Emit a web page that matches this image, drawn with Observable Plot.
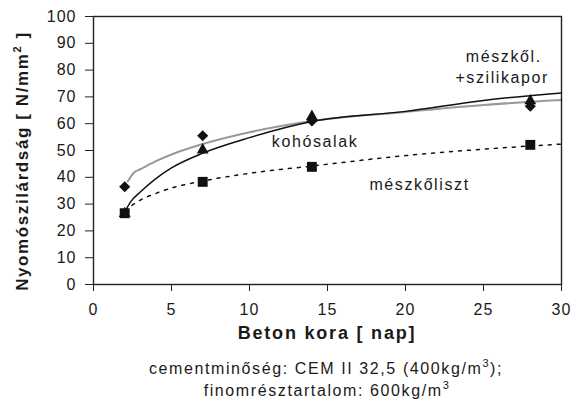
<!DOCTYPE html>
<html><head><meta charset="utf-8">
<script src="https://cdn.jsdelivr.net/npm/d3@7"></script>
<script src="https://cdn.jsdelivr.net/npm/@observablehq/plot@0.6"></script>
<style>
body{margin:0;background:#fff;}
svg{font-family:"Liberation Sans",Arial,sans-serif;}
</style></head><body><div id="chart"></div>
<script>
// measured points (days)
const days = [2, 7, 14, 28];
const szilikaporPts = [36.5, 55.5, 61, 66.5];   // diamonds
const kohosalakPts = [26.5, 50.2, 62.7, 68.5];  // triangles
const meszkolisztPts = [26.6, 38.3, 43.9, 52.1];// squares

// trend curves
const szilikaporTrendX = [2.2, 2.6, 3, 4, 5, 7, 10, 14, 20, 25, 30];
const szilikaporTrendY = [38.5, 41.8, 43, 46, 48.5, 52.4, 56.8, 61, 64.4, 67, 68.8];
const kohosalakTrendX = [2, 2.4, 3, 4, 5, 7, 10, 14, 20, 25, 30];
const kohosalakTrendY = [27, 31, 34.5, 39.5, 43.5, 49, 54.8, 60.8, 64.6, 68.7, 71.5];
const meszkolisztTrendX = [2, 3, 4, 5, 7, 10, 14, 20, 25, 30];
const meszkolisztTrendY = [27.5, 31.5, 34, 36, 38.6, 41.5, 44.2, 48.1, 50.5, 52.4];

const xTicks = [0, 5, 10, 15, 20, 25, 30];
const yTicks = [0, 10, 20, 30, 40, 50, 60, 70, 80, 90, 100];
const seriesLabels = ["mészkől.", "+szilikapor", "kohósalak", "mészkőliszt"];

const pts = (xs, ys) => xs.map((x, i) => ({x, y: ys[i]}));

const font = '"Liberation Sans",Arial,sans-serif';
const chart = Plot.plot({
  width: 576, height: 403,
  marginLeft: 93, marginRight: 15, marginTop: 16, marginBottom: 119,
  style: {fontFamily: font, fontSize: "16px", color: "#1a1a1a", background: "#fff"},
  x: {domain: [0, 30]},
  y: {domain: [0, 100]},
  marks: [
    Plot.axisX({ticks: xTicks, tickSize: 7, tickPadding: 12, label: null, fontSize: 16, stroke: "#222"}),
    Plot.axisY({ticks: yTicks, tickSize: 8, tickPadding: 9, label: null, fontSize: 16, stroke: "#222"}),
    Plot.line(pts(szilikaporTrendX, szilikaporTrendY), {x: "x", y: "y", stroke: "#999", strokeWidth: 2, curve: "monotone-x"}),
    Plot.line(pts(kohosalakTrendX, kohosalakTrendY), {x: "x", y: "y", stroke: "#111", strokeWidth: 1.5, curve: "monotone-x"}),
    Plot.line(pts(meszkolisztTrendX, meszkolisztTrendY), {x: "x", y: "y", stroke: "#111", strokeWidth: 1.5, strokeDasharray: "3,6", curve: "monotone-x"}),
    Plot.dot(pts(days, szilikaporPts), {x: "x", y: "y", symbol: "diamond2", r: 5, fill: "#111", stroke: "none"}),
    Plot.dot(pts(days, kohosalakPts), {x: "x", y: "y", symbol: "triangle", r: 4.4, fill: "#111", stroke: "none"}),
    Plot.dot(pts(days, meszkolisztPts), {x: "x", y: "y", symbol: "square", r: 5.6, fill: "#111", stroke: "none"}),
    Plot.text([
      {x: 26.3, y: 85.1, t: seriesLabels[0]},
      {x: 26.2, y: 77, t: seriesLabels[1]},
      {x: 14.2, y: 53.3, t: seriesLabels[2]},
      {x: 20.9, y: 37.1, t: seriesLabels[3]}
    ], {x: "x", y: "y", text: "t", fontSize: 16, fill: "#1a1a1a"}),
    Plot.frame({stroke: "#222", strokeWidth: 1.4})
  ]
});

const svg = d3.select(chart);
svg.selectAll("[aria-label='text'] text").style("letter-spacing", "1.6px");
svg.selectAll("[aria-label^='x-axis tick label'] text, [aria-label^='y-axis tick label'] text").style("letter-spacing", "1px");

// y axis label
const yl = svg.append("text")
  .attr("transform", "translate(28,161) rotate(-90)")
  .attr("text-anchor", "middle")
  .attr("font-weight", "bold").attr("font-size", 17)
  .attr("letter-spacing", "1.6px").attr("fill", "#1a1a1a");
yl.append("tspan").text("Nyomószilárdság [ N/mm");
yl.append("tspan").attr("dy", -7).attr("font-size", 11).text("2");
yl.append("tspan").attr("dy", 7).text(" ]");

// x axis label
svg.append("text").attr("x", 327).attr("y", 339)
  .attr("text-anchor", "middle").attr("font-weight", "bold").attr("font-size", 18)
  .attr("letter-spacing", "1.8px").attr("fill", "#1a1a1a")
  .text("Beton kora [ nap]");

// caption
const c1 = svg.append("text").attr("x", 326).attr("y", 374).attr("text-anchor", "middle")
  .attr("font-size", 16).attr("letter-spacing", "1.6px").attr("fill", "#1a1a1a");
c1.append("tspan").text("cementminőség: CEM II 32,5 (400kg/m");
c1.append("tspan").attr("dy", -7).attr("font-size", 11).text("3");
c1.append("tspan").attr("dy", 7).text(");");
const c2 = svg.append("text").attr("x", 327).attr("y", 396).attr("text-anchor", "middle")
  .attr("font-size", 16).attr("letter-spacing", "1.6px").attr("fill", "#1a1a1a");
c2.append("tspan").text("finomrésztartalom: 600kg/m");
c2.append("tspan").attr("dy", -7).attr("font-size", 11).text("3");

document.getElementById("chart").appendChild(chart);
</script></body></html>
